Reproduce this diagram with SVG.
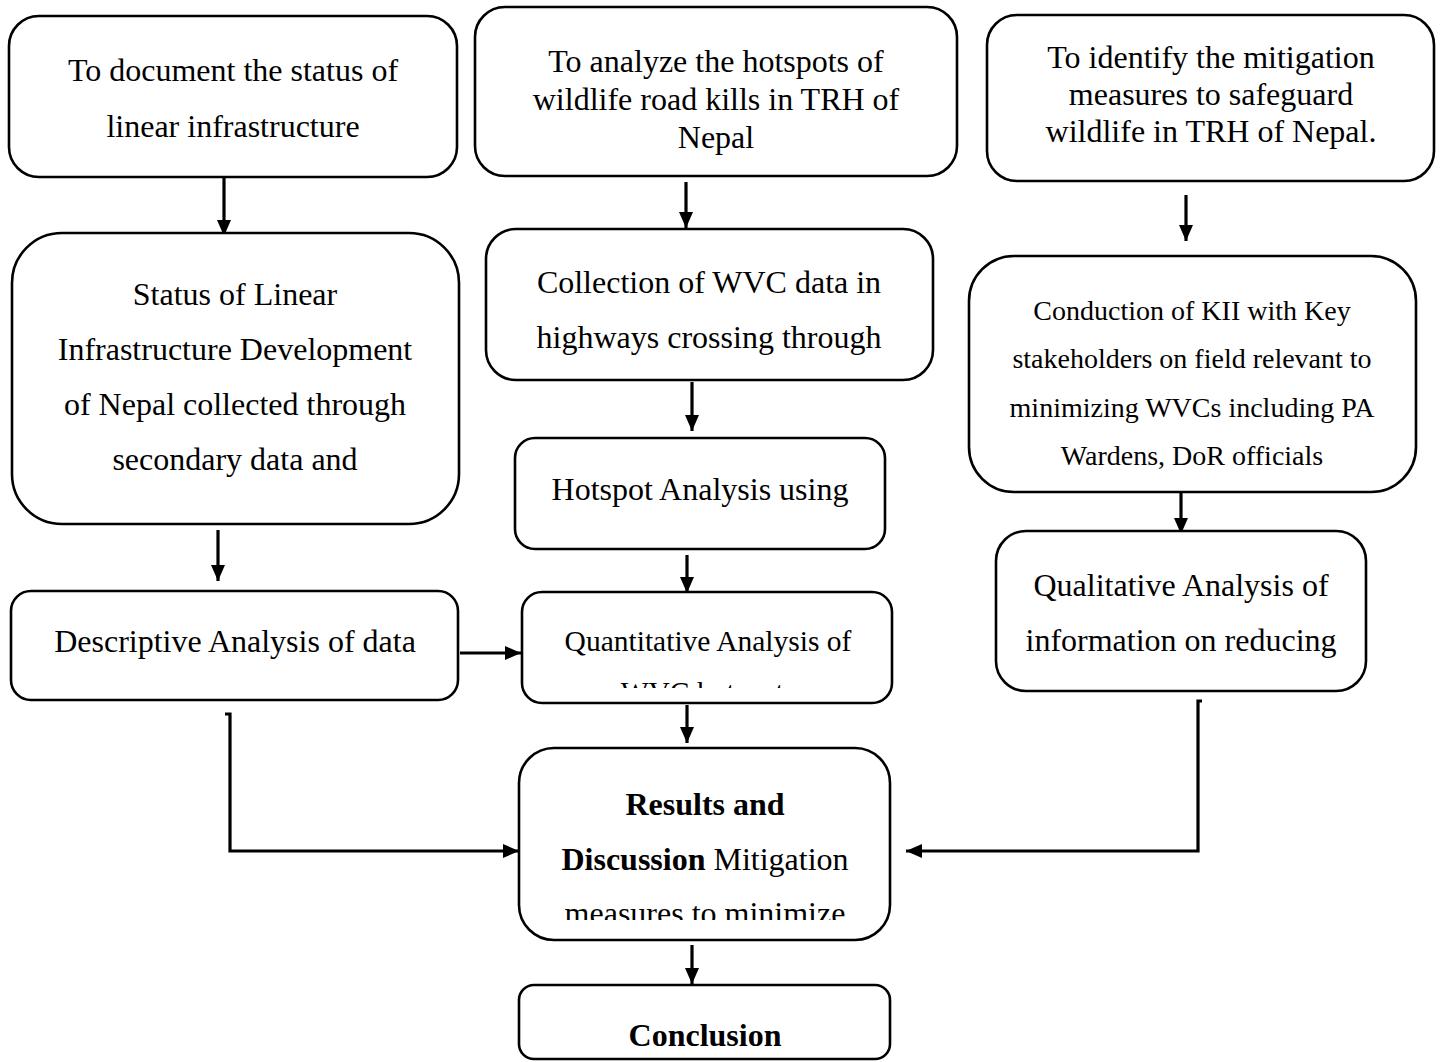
<svg xmlns="http://www.w3.org/2000/svg" width="1441" height="1062" viewBox="0 0 1441 1062">
<style>
.box{fill:#fff;stroke:#000;stroke-width:2.6}
.t{font-family:"Liberation Serif","Times New Roman",serif;font-size:32px;fill:#000;text-anchor:middle}
.s{font-size:28px}
.q{font-size:29.5px}
.b{font-weight:bold}
.c{fill:none;stroke:#000;stroke-width:3.2}
</style>
<defs>
<marker id="ah" markerUnits="userSpaceOnUse" markerWidth="16" markerHeight="14" refX="16" refY="7" orient="auto">
<path d="M0,0 L16,7 L0,14 z" fill="#000"/>
</marker>
<clipPath id="clipQ"><rect x="522" y="592" width="370" height="96"/></clipPath>
<clipPath id="clipR"><rect x="519" y="748" width="371" height="172"/></clipPath>
</defs>

<g id="connectors">
<path class="c" d="M224,178 V236" marker-end="url(#ah)"/>
<path class="c" d="M686,182 V228" marker-end="url(#ah)"/>
<path class="c" d="M1186,195 V241" marker-end="url(#ah)"/>
<path class="c" d="M218,530 V581" marker-end="url(#ah)"/>
<path class="c" d="M692,382 V431" marker-end="url(#ah)"/>
<path class="c" d="M1181,492 V534" marker-end="url(#ah)"/>
<path class="c" d="M687,555 V593" marker-end="url(#ah)"/>
<path class="c" d="M460,653 H521" marker-end="url(#ah)"/>
<path class="c" d="M687,705 V743" marker-end="url(#ah)"/>
<path class="c" d="M225,714 H230 V851 H519" marker-end="url(#ah)"/>
<path class="c" d="M1202,701 H1198 V851 H906" marker-end="url(#ah)"/>
<path class="c" d="M692,945 V984" marker-end="url(#ah)"/>
</g>

<g id="obj1">
<rect class="box" x="9" y="16" width="448" height="161" rx="30"/>
<text class="t" x="233" y="81">To document the status of</text>
<text class="t" x="233" y="137">linear infrastructure</text>
</g>

<g id="obj2">
<rect class="box" x="475" y="7" width="482" height="169" rx="30"/>
<text class="t" x="716" y="72">To analyze the hotspots of</text>
<text class="t" x="716" y="110">wildlife road kills in TRH of</text>
<text class="t" x="716" y="148">Nepal</text>
</g>

<g id="obj3">
<rect class="box" x="987" y="15" width="447" height="166" rx="30"/>
<text class="t" x="1211" y="68">To identify the mitigation</text>
<text class="t" x="1211" y="105">measures to safeguard</text>
<text class="t" x="1211" y="142">wildlife in TRH of Nepal.</text>
</g>

<g id="status">
<rect class="box" x="12" y="233" width="447" height="291" rx="50"/>
<text class="t" x="235" y="305">Status of Linear</text>
<text class="t" x="235" y="360">Infrastructure Development</text>
<text class="t" x="235" y="415">of Nepal collected through</text>
<text class="t" x="235" y="470">secondary data and</text>
</g>

<g id="collection">
<rect class="box" x="486" y="229" width="447" height="151" rx="30"/>
<text class="t" x="709" y="293">Collection of WVC data in</text>
<text class="t" x="709" y="348">highways crossing through</text>
</g>

<g id="kii">
<rect class="box" x="969" y="256" width="447" height="236" rx="45"/>
<text class="t s" x="1192" y="320">Conduction of KII with Key</text>
<text class="t s" x="1192" y="368">stakeholders on field relevant to</text>
<text class="t s" x="1192" y="417">minimizing WVCs including PA</text>
<text class="t s" x="1192" y="465">Wardens, DoR officials</text>
</g>

<g id="descriptive">
<rect class="box" x="11" y="591" width="447" height="109" rx="20"/>
<text class="t" x="235" y="652">Descriptive Analysis of data</text>
</g>

<g id="hotspot">
<rect class="box" x="515" y="438" width="370" height="111" rx="20"/>
<text class="t" x="700" y="500">Hotspot Analysis using</text>
</g>

<g id="qualitative">
<rect class="box" x="996" y="531" width="370" height="160" rx="30"/>
<text class="t" x="1181" y="596">Qualitative Analysis of</text>
<text class="t" x="1181" y="651">information on reducing</text>
</g>

<g id="quantitative">
<rect class="box" x="522" y="592" width="370" height="111" rx="20"/>
<text class="t q" x="708" y="651">Quantitative Analysis of</text>
<text class="t q" x="708" y="702" clip-path="url(#clipQ)">WVC hotspots</text>
</g>

<g id="results">
<rect class="box" x="519" y="748" width="371" height="192" rx="35"/>
<text class="t b" x="705" y="815">Results and</text>
<text class="t" x="705" y="870"><tspan class="b">Discussion</tspan> Mitigation</text>
<text class="t" x="705" y="924" clip-path="url(#clipR)">measures to minimize</text>
</g>

<g id="conclusion">
<rect class="box" x="519" y="985" width="371" height="74" rx="15"/>
<text class="t b" x="705" y="1046">Conclusion</text>
</g>
</svg>
